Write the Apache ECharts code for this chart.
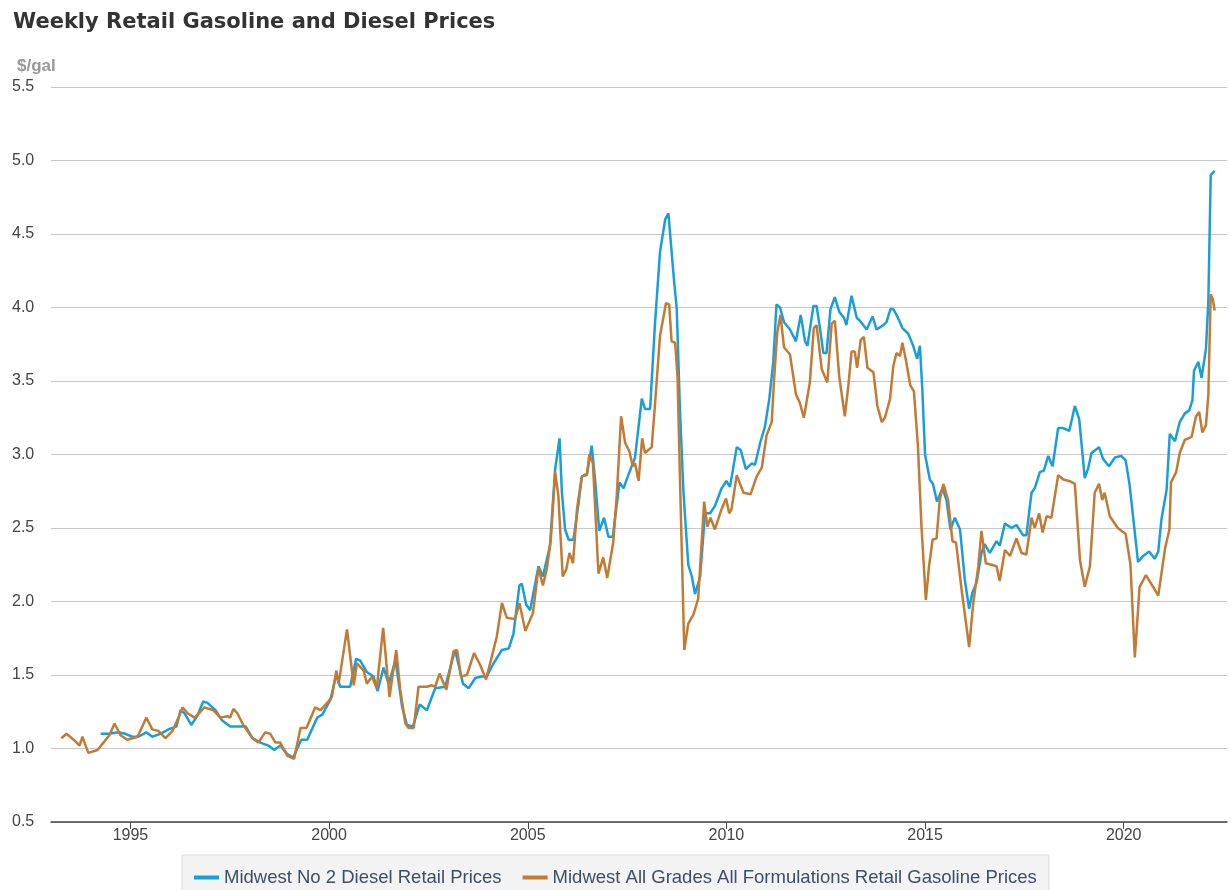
<!DOCTYPE html>
<html>
<head>
<meta charset="utf-8">
<title>Weekly Retail Gasoline and Diesel Prices</title>
<script src="https://cdn.jsdelivr.net/npm/echarts@6/dist/echarts.min.js"></script>
<style>
  html, body { margin: 0; padding: 0; background: #fff; }
  #chart { width: 1231px; height: 890px; }
</style>
</head>
<body>
<div id="chart"></div>
<script>
// x values are decimal years
var yearTicks = [1995, 2000, 2005, 2010, 2015, 2020];
var priceTicks = [0.5, 1.0, 1.5, 2.0, 2.5, 3.0, 3.5, 4.0, 4.5, 5.0, 5.5];
var seriesNames = ["Midwest No 2 Diesel Retail Prices", "Midwest All Grades All Formulations Retail Gasoline Prices"];

var diesel = [
  [1994.25,1.10],[1994.45,1.10],[1994.70,1.11],[1994.87,1.10],[1995.05,1.08],[1995.20,1.08],
  [1995.40,1.11],[1995.55,1.08],[1995.75,1.10],[1995.96,1.13],[1996.16,1.15],[1996.26,1.26],
  [1996.36,1.24],[1996.53,1.16],[1996.68,1.22],[1996.83,1.32],[1996.94,1.31],[1997.14,1.26],
  [1997.31,1.19],[1997.51,1.15],[1997.72,1.15],[1997.90,1.15],[1998.07,1.07],[1998.27,1.04],
  [1998.47,1.02],[1998.62,0.99],[1998.77,1.02],[1998.95,0.96],[1999.10,0.94],[1999.30,1.06],
  [1999.45,1.06],[1999.70,1.21],[1999.83,1.23],[2000.03,1.33],[2000.18,1.50],[2000.28,1.42],
  [2000.53,1.42],[2000.68,1.61],[2000.78,1.60],[2000.95,1.52],[2001.12,1.49],[2001.22,1.39],
  [2001.37,1.55],[2001.50,1.44],[2001.67,1.60],[2001.84,1.28],[2001.96,1.16],[2002.11,1.15],
  [2002.28,1.30],[2002.46,1.26],[2002.67,1.41],[2002.92,1.42],[2003.17,1.67],[2003.37,1.44],
  [2003.51,1.41],[2003.68,1.48],[2003.84,1.49],[2003.97,1.49],[2004.14,1.58],[2004.35,1.67],
  [2004.52,1.68],[2004.64,1.78],[2004.79,2.11],[2004.85,2.12],[2004.96,1.98],[2005.06,1.94],
  [2005.10,1.94],[2005.27,2.24],[2005.38,2.17],[2005.56,2.38],[2005.69,2.90],[2005.80,3.11],
  [2005.86,2.74],[2005.94,2.49],[2006.03,2.42],[2006.15,2.42],[2006.28,2.67],[2006.36,2.85],
  [2006.49,2.87],[2006.61,3.06],[2006.70,2.81],[2006.80,2.48],[2006.92,2.57],[2007.03,2.44],
  [2007.14,2.44],[2007.31,2.81],[2007.41,2.77],[2007.53,2.86],[2007.70,2.98],[2007.87,3.38],
  [2007.95,3.31],[2008.08,3.31],[2008.20,3.88],[2008.33,4.38],[2008.46,4.60],[2008.54,4.64],
  [2008.67,4.22],[2008.75,3.99],[2008.83,3.31],[2008.92,2.74],[2009.04,2.25],[2009.13,2.17],
  [2009.21,2.05],[2009.34,2.17],[2009.46,2.60],[2009.59,2.60],[2009.71,2.65],[2009.88,2.77],
  [2010.00,2.82],[2010.09,2.78],[2010.26,3.05],[2010.36,3.03],[2010.49,2.90],[2010.64,2.94],
  [2010.72,2.93],[2010.85,3.08],[2010.97,3.19],[2011.08,3.38],[2011.18,3.63],[2011.26,4.02],
  [2011.35,4.00],[2011.45,3.90],[2011.60,3.85],[2011.75,3.77],[2011.87,3.95],[2011.98,3.77],
  [2012.04,3.74],[2012.19,4.01],[2012.27,4.01],[2012.36,3.85],[2012.44,3.69],[2012.52,3.69],
  [2012.62,3.99],[2012.73,4.07],[2012.84,3.97],[2012.96,3.93],[2013.02,3.88],[2013.15,4.08],
  [2013.28,3.93],[2013.36,3.91],[2013.53,3.85],[2013.68,3.94],[2013.78,3.85],[2013.95,3.88],
  [2014.03,3.90],[2014.13,3.99],[2014.20,3.99],[2014.30,3.94],[2014.43,3.86],[2014.58,3.82],
  [2014.70,3.74],[2014.80,3.65],[2014.87,3.74],[2014.93,3.45],[2015.00,3.00],[2015.12,2.83],
  [2015.20,2.80],[2015.30,2.68],[2015.44,2.77],[2015.54,2.69],[2015.64,2.49],[2015.75,2.57],
  [2015.88,2.49],[2016.00,2.15],[2016.11,1.95],[2016.19,2.06],[2016.30,2.13],[2016.42,2.33],
  [2016.50,2.39],[2016.63,2.33],[2016.80,2.41],[2016.88,2.38],[2017.01,2.53],[2017.18,2.50],
  [2017.30,2.52],[2017.47,2.45],[2017.55,2.45],[2017.68,2.74],[2017.76,2.77],[2017.89,2.88],
  [2017.99,2.89],[2018.10,2.99],[2018.21,2.92],[2018.35,3.18],[2018.48,3.18],[2018.63,3.16],
  [2018.77,3.33],[2018.88,3.24],[2019.02,2.84],[2019.10,2.90],[2019.19,3.01],[2019.38,3.05],
  [2019.48,2.97],[2019.63,2.92],[2019.78,2.98],[2019.94,2.99],[2020.05,2.96],[2020.15,2.79],
  [2020.36,2.27],[2020.49,2.31],[2020.64,2.34],[2020.78,2.29],[2020.87,2.34],[2020.95,2.56],
  [2021.08,2.76],[2021.16,3.14],[2021.29,3.09],[2021.41,3.22],[2021.54,3.28],[2021.65,3.30],
  [2021.73,3.37],[2021.77,3.57],[2021.88,3.63],[2021.96,3.52],[2022.07,3.72],[2022.13,4.04],
  [2022.19,4.90],[2022.29,4.93]
];

var gasoline = [
  [1993.26,1.07],[1993.39,1.10],[1993.57,1.06],[1993.72,1.02],[1993.79,1.08],[1993.94,0.97],
  [1994.17,0.99],[1994.32,1.04],[1994.47,1.09],[1994.60,1.17],[1994.75,1.09],[1994.92,1.06],
  [1995.18,1.08],[1995.28,1.14],[1995.40,1.21],[1995.55,1.13],[1995.70,1.12],[1995.88,1.07],
  [1996.06,1.12],[1996.21,1.21],[1996.31,1.28],[1996.44,1.24],[1996.61,1.21],[1996.76,1.25],
  [1996.86,1.28],[1997.09,1.26],[1997.26,1.21],[1997.44,1.22],[1997.51,1.21],[1997.59,1.27],
  [1997.69,1.24],[1997.84,1.16],[1998.07,1.07],[1998.22,1.04],[1998.39,1.11],[1998.52,1.10],
  [1998.65,1.04],[1998.77,1.04],[1998.85,1.00],[1998.95,0.95],[1999.12,0.93],[1999.28,1.14],
  [1999.43,1.14],[1999.65,1.28],[1999.78,1.26],[1999.95,1.31],[2000.07,1.35],[2000.18,1.53],
  [2000.24,1.44],[2000.45,1.81],[2000.62,1.43],[2000.70,1.58],[2000.87,1.53],[2000.95,1.44],
  [2001.08,1.49],[2001.20,1.41],[2001.36,1.82],[2001.52,1.35],[2001.69,1.67],[2001.79,1.40],
  [2001.92,1.17],[2002.00,1.14],[2002.13,1.14],[2002.25,1.42],[2002.46,1.42],[2002.59,1.43],
  [2002.67,1.42],[2002.78,1.51],[2002.95,1.40],[2003.13,1.66],[2003.22,1.67],[2003.32,1.49],
  [2003.47,1.50],[2003.65,1.65],[2003.80,1.57],[2003.95,1.47],[2004.10,1.63],[2004.22,1.76],
  [2004.35,1.99],[2004.47,1.89],[2004.68,1.88],[2004.79,1.99],[2004.94,1.80],[2005.13,1.92],
  [2005.27,2.23],[2005.38,2.11],[2005.48,2.22],[2005.58,2.42],[2005.69,2.88],[2005.77,2.72],
  [2005.88,2.17],[2005.97,2.22],[2006.05,2.33],[2006.14,2.26],[2006.24,2.63],[2006.36,2.85],
  [2006.49,2.86],[2006.55,3.00],[2006.64,2.94],[2006.78,2.19],[2006.90,2.30],[2007.00,2.16],
  [2007.15,2.40],[2007.24,2.72],[2007.35,3.26],[2007.45,3.08],[2007.56,3.02],[2007.64,2.92],
  [2007.70,2.94],[2007.79,2.82],[2007.88,3.11],[2007.95,3.01],[2008.12,3.05],[2008.20,3.33],
  [2008.33,3.81],[2008.48,4.03],[2008.56,4.02],[2008.62,3.77],[2008.71,3.76],[2008.77,3.53],
  [2008.83,2.85],[2008.94,1.67],[2009.04,1.85],[2009.17,1.91],[2009.29,2.02],[2009.44,2.68],
  [2009.52,2.51],[2009.60,2.57],[2009.71,2.49],[2009.88,2.63],[2009.99,2.70],[2010.07,2.60],
  [2010.13,2.63],[2010.26,2.86],[2010.43,2.74],[2010.61,2.73],[2010.76,2.85],[2010.89,2.91],
  [2011.01,3.13],[2011.14,3.22],[2011.20,3.51],[2011.28,3.83],[2011.36,3.95],[2011.45,3.73],
  [2011.60,3.68],[2011.75,3.41],[2011.85,3.35],[2011.95,3.25],[2012.10,3.49],[2012.20,3.86],
  [2012.27,3.88],[2012.40,3.58],[2012.54,3.49],[2012.65,3.89],[2012.73,3.91],[2012.84,3.53],
  [2012.98,3.26],[2013.07,3.47],[2013.15,3.70],[2013.23,3.70],[2013.29,3.59],[2013.38,3.78],
  [2013.46,3.80],[2013.55,3.59],[2013.70,3.56],[2013.80,3.33],[2013.91,3.22],[2013.99,3.25],
  [2014.12,3.38],[2014.20,3.60],[2014.28,3.69],[2014.37,3.67],[2014.43,3.76],[2014.52,3.64],
  [2014.63,3.47],[2014.72,3.43],[2014.82,3.06],[2014.91,2.51],[2015.02,2.01],[2015.10,2.24],
  [2015.19,2.42],[2015.29,2.43],[2015.37,2.69],[2015.46,2.80],[2015.58,2.69],[2015.69,2.41],
  [2015.78,2.40],[2015.92,2.08],[2016.11,1.69],[2016.21,1.98],[2016.34,2.24],[2016.42,2.48],
  [2016.53,2.26],[2016.67,2.25],[2016.80,2.24],[2016.88,2.14],[2017.01,2.35],[2017.14,2.31],
  [2017.30,2.43],[2017.43,2.33],[2017.55,2.32],[2017.68,2.57],[2017.76,2.50],[2017.87,2.60],
  [2017.96,2.47],[2018.06,2.58],[2018.18,2.57],[2018.35,2.86],[2018.48,2.83],[2018.63,2.82],
  [2018.77,2.80],[2018.90,2.28],[2019.02,2.10],[2019.15,2.24],[2019.27,2.74],[2019.38,2.80],
  [2019.46,2.69],[2019.52,2.74],[2019.65,2.58],[2019.85,2.50],[2020.05,2.46],[2020.17,2.25],
  [2020.28,1.62],[2020.40,2.10],[2020.56,2.18],[2020.74,2.10],[2020.87,2.04],[2021.04,2.36],
  [2021.15,2.49],[2021.19,2.81],[2021.32,2.88],[2021.41,3.01],[2021.54,3.10],[2021.71,3.12],
  [2021.82,3.26],[2021.90,3.29],[2021.98,3.15],[2022.07,3.20],[2022.13,3.40],[2022.19,4.09],
  [2022.24,4.06],[2022.29,3.98]
];

var myChart = echarts.init(document.getElementById("chart"));
myChart.setOption({
  animation: false,
  textStyle: { fontFamily: "Liberation Sans, Arial, sans-serif" },
  title: [
    {
      text: "Weekly Retail Gasoline and Diesel Prices",
      left: 8,
      top: 7,
      textStyle: { fontSize: 21, fontWeight: "bold", color: "#333", fontFamily: "DejaVu Sans" },
    },
    {
      text: "$/gal",
      left: 12,
      top: 53,
      textStyle: { fontSize: 17, fontWeight: "bold", color: "#999" },
    },
  ],
  legend: {
    left: 182,
    top: 855,
    padding: [13, 12, 14, 12],
    backgroundColor: "#f3f3f3",
    borderColor: "#dcdcdc",
    borderWidth: 1,
    itemGap: 21,
    itemWidth: 25,
    itemHeight: 4,
    icon: "rect",
    textStyle: { fontSize: 18.5, color: "#3a4f6b" },
    data: seriesNames,
  },
  grid: { left: 51, right: 4, top: 87, bottom: 68 },
  xAxis: {
    type: "value",
    min: 1993.0,
    max: 2022.6,
    axisLine: { lineStyle: { color: "#444", width: 1.5 } },
    axisTick: {
      customValues: yearTicks,
      length: 7,
      lineStyle: { color: "#444" },
    },
    axisLabel: {
      customValues: yearTicks,
      fontSize: 16,
      color: "#444",
      margin: 6,
      formatter: function (v) {
        return String(v);
      },
    },
    splitLine: { show: false },
  },
  yAxis: {
    type: "value",
    min: priceTicks[0],
    max: priceTicks[priceTicks.length - 1],
    interval: 0.5,
    axisLine: { show: false },
    axisTick: { show: false },
    axisLabel: {
      fontSize: 16,
      color: "#444",
      align: "left",
      margin: 39,
      formatter: function (v) {
        return v.toFixed(1);
      },
    },
    splitLine: { lineStyle: { color: "#c8c8c8", width: 1 } },
  },
  series: [
    {
      name: seriesNames[0],
      type: "line",
      data: diesel,
      showSymbol: false,
      color: "#1a9edb",
      lineStyle: { width: 2.5 },
      z: 2,
    },
    {
      name: seriesNames[1],
      type: "line",
      data: gasoline,
      showSymbol: false,
      color: "#c27a34",
      lineStyle: { width: 2.5 },
      z: 3,
    },
  ],
});
</script>
</body>
</html>
